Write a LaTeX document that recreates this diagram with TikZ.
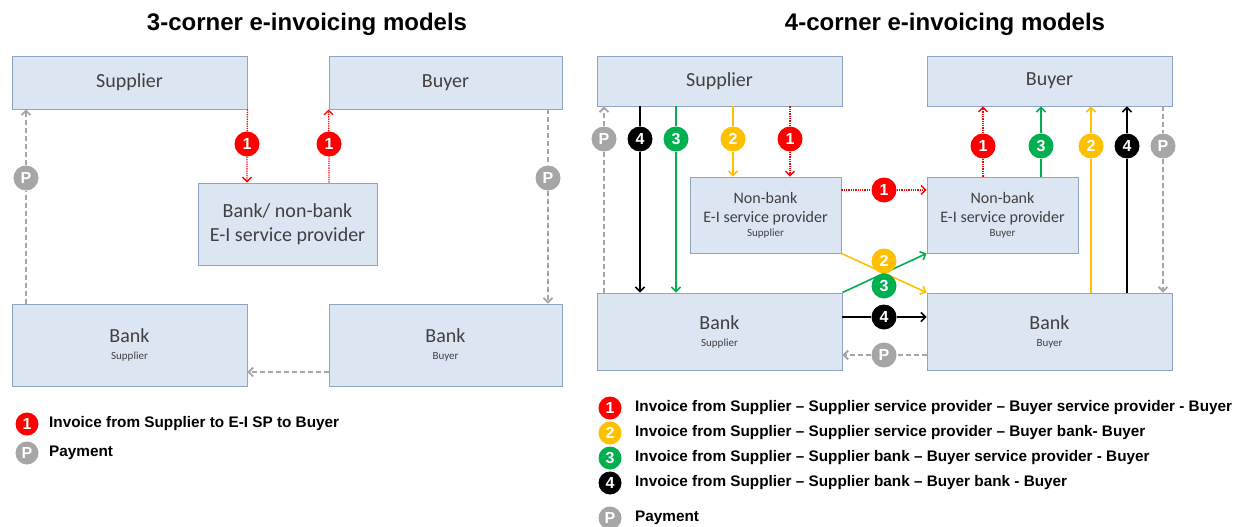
\documentclass[tikz,border=0pt]{standalone}
\usepackage{fontspec}
\setmainfont{Carlito}
\newfontfamily\arialfont{Liberation Sans}
\usepackage{xcolor}
\usepackage{tikz}
\usetikzlibrary{arrows.meta}

\definecolor{boxfill}{HTML}{DCE6F2}
\definecolor{boxline}{HTML}{8FA5C3}
\definecolor{boxtext}{HTML}{404040}
\definecolor{invred}{HTML}{FF0000}
\definecolor{invyellow}{HTML}{FFC000}
\definecolor{invgreen}{HTML}{00B050}
\definecolor{paygray}{HTML}{A6A6A6}

\newcommand{\subtag}[1]{{\fontsize{11}{13}\selectfont #1}}

\begin{document}
\begin{tikzpicture}[x=1pt, y=-1pt,
    box/.style={draw=boxline, fill=boxfill, line width=0.9pt, inner sep=0pt, align=center, text=boxtext, font=\fontsize{20}{24}\selectfont},
    num/.style={circle, fill=#1, text=white, minimum size=25pt, inner sep=0pt, font=\arialfont\bfseries\fontsize{16}{16}\selectfont},
    flow/.style={draw=#1, line width=1.6pt, -{Straight Barb[length=4.5pt,width=9pt]}},
    dotflow/.style={flow=invred, line width=1.3pt, densely dotted},
    payflow/.style={flow=paygray, line width=1.8pt, dash pattern=on 5pt off 3pt},
    heading/.style={font=\arialfont\bfseries\fontsize{24}{24}\selectfont},
    legtext/.style={anchor=west, inner sep=0pt, font=\arialfont\bfseries\fontsize{15.3}{15}\selectfont}
]
    % Canvas
    \fill[white] (0,0) rectangle (1239,527);
    \useasboundingbox (0,0) rectangle (1239,527);

    % ---------------- 3-corner model ----------------
    \node[heading] (head3) at (307,24) {3-corner e-invoicing models};

    \node[box, minimum width=235pt, minimum height=53pt] (sup3) at (129.5,82.5) {Supplier};
    \node[box, minimum width=233pt, minimum height=53pt] (buy3) at (445.5,82.5) {Buyer};
    \node[box, minimum width=179pt, minimum height=82pt] (sp3) at (287.5,224) {Bank/ non-bank\\E-I service provider};
    \node[box, minimum width=235pt, minimum height=82pt] (banks3) at (129.5,345) {Bank\\[-7pt]\subtag{Supplier}};
    \node[box, minimum width=233pt, minimum height=82pt] (bankb3) at (445.5,345) {Bank\\[-7pt]\subtag{Buyer}};

    % Markers
    \node[num=invred] (r1a3) at (247,144) {1};
    \node[num=invred] (r1b3) at (329,144) {1};
    \node[num=paygray] (pa3) at (26,178) {P};
    \node[num=paygray] (pb3) at (548,178) {P};
    \coordinate (pm3) at (288,372);

    % Invoice flow
    \draw[dotflow] (sup3.south east) -- (r1a3) -- (sp3.north -| r1a3);
    \draw[dotflow] (sp3.north -| r1b3) -- (r1b3) -- (buy3.south west);

    % Payment flow
    \draw[payflow] (buy3.south -| pb3) -- (pb3) -- (bankb3.north -| pb3);
    \draw[payflow] (bankb3.west |- pm3) -- (banks3.east |- pm3);
    \draw[payflow] (banks3.north -| pa3) -- (pa3) -- (sup3.south -| pa3);

    % Legend
    \node[num=invred, minimum size=23pt] (lg1a) at (27,424) {1};
    \node[legtext] (lt1a) at (49,424) {Invoice from Supplier to E-I SP to Buyer};
    \node[num=paygray, minimum size=23pt] (lgpa) at (27,453) {P};
    \node[legtext] (ltpa) at (49,453) {Payment};

    % ---------------- 4-corner model ----------------
    \node[heading] (head4) at (945,24) {4-corner e-invoicing models};

    \node[box, minimum width=245pt, minimum height=50pt] (sup4) at (719.5,81) {Supplier};
    \node[box, minimum width=245pt, minimum height=50pt] (buy4) at (1049.5,81) {Buyer};
    \node[box, font=\fontsize{16}{19}\selectfont, minimum width=151pt, minimum height=76pt] (nbs4) at (765.5,215)
        {Non-bank\\E-I service provider\\[-5pt]\subtag{Supplier}};
    \node[box, font=\fontsize{16}{19}\selectfont, minimum width=151pt, minimum height=76pt] (nbb4) at (1002.5,215)
        {Non-bank\\E-I service provider\\[-5pt]\subtag{Buyer}};
    \node[box, minimum width=245pt, minimum height=77pt] (banks4) at (719.5,331.5) {Bank\\[-7pt]\subtag{Supplier}};
    \node[box, minimum width=245pt, minimum height=77pt] (bankb4) at (1049.5,331.5) {Bank\\[-7pt]\subtag{Buyer}};

    % Crossing flows (under the markers)
    \draw[flow=invyellow] (nbs4.south east) -- (bankb4.north west);
    \draw[flow=invgreen] (banks4.north east) -- (nbb4.south west);

    % Markers - supplier side
    \node[num=paygray] (pa4) at (604,139) {P};
    \node[num=black] (k4a) at (640,139) {4};
    \node[num=invgreen] (g3a) at (676,139) {3};
    \node[num=invyellow] (y2a) at (733,139) {2};
    \node[num=invred] (r1a4) at (790,139) {1};

    % Markers - middle
    \node[num=invred] (r1m4) at (884,190) {1};
    \node[num=invyellow] (y2m) at (884,261) {2};
    \node[num=invgreen] (g3m) at (884,286) {3};
    \node[num=black] (k4m) at (884,317) {4};
    \node[num=paygray] (pm4) at (884,355) {P};

    % Markers - buyer side
    \node[num=invred] (r1b4) at (983,146) {1};
    \node[num=invgreen] (g3b) at (1041,146) {3};
    \node[num=invyellow] (y2b) at (1091,146) {2};
    \node[num=black] (k4b) at (1127,146) {4};
    \node[num=paygray] (pb4) at (1163,146) {P};

    % Supplier side flows
    \draw[payflow] (banks4.north -| pa4) -- (pa4) -- (sup4.south -| pa4);
    \draw[flow=black] (sup4.south -| k4a) -- (k4a) -- (banks4.north -| k4a);
    \draw[flow=invgreen] (sup4.south -| g3a) -- (g3a) -- (banks4.north -| g3a);
    \draw[flow=invyellow] (sup4.south -| y2a) -- (y2a) -- (nbs4.north -| y2a);
    \draw[dotflow] (sup4.south -| r1a4) -- (r1a4) -- (nbs4.north -| r1a4);

    % Middle flows
    \draw[dotflow] (nbs4.east |- r1m4) -- (r1m4) -- (nbb4.west |- r1m4);
    \draw[flow=black] (banks4.east |- k4m) -- (k4m) -- (bankb4.west |- k4m);
    \draw[payflow] (bankb4.west |- pm4) -- (pm4) -- (banks4.east |- pm4);

    % Buyer side flows
    \draw[dotflow] (nbb4.north -| r1b4) -- (r1b4) -- (buy4.south -| r1b4);
    \draw[flow=invgreen] (nbb4.north -| g3b) -- (g3b) -- (buy4.south -| g3b);
    \draw[flow=invyellow] (bankb4.north -| y2b) -- (y2b) -- (buy4.south -| y2b);
    \draw[flow=black] (bankb4.north -| k4b) -- (k4b) -- (buy4.south -| k4b);
    \draw[payflow] (buy4.south -| pb4) -- (pb4) -- (bankb4.north -| pb4);

    % Legend
    \node[num=invred, minimum size=23pt] (lg1) at (610,408) {1};
    \node[legtext] (lt1) at (635,408) {Invoice from Supplier – Supplier service provider – Buyer service provider - Buyer};
    \node[num=invyellow, minimum size=23pt] (lg2) at (610,433) {2};
    \node[legtext] (lt2) at (635,433) {Invoice from Supplier – Supplier service provider – Buyer bank- Buyer};
    \node[num=invgreen, minimum size=23pt] (lg3) at (610,458) {3};
    \node[legtext] (lt3) at (635,458) {Invoice from Supplier – Supplier bank – Buyer service provider - Buyer};
    \node[num=black, minimum size=23pt] (lg4) at (610,483) {4};
    \node[legtext] (lt4) at (635,483) {Invoice from Supplier – Supplier bank – Buyer bank - Buyer};
    \node[num=paygray, minimum size=23pt] (lgp) at (610,518) {P};
    \node[legtext] (ltp) at (635,518) {Payment};
\end{tikzpicture}
\end{document}
